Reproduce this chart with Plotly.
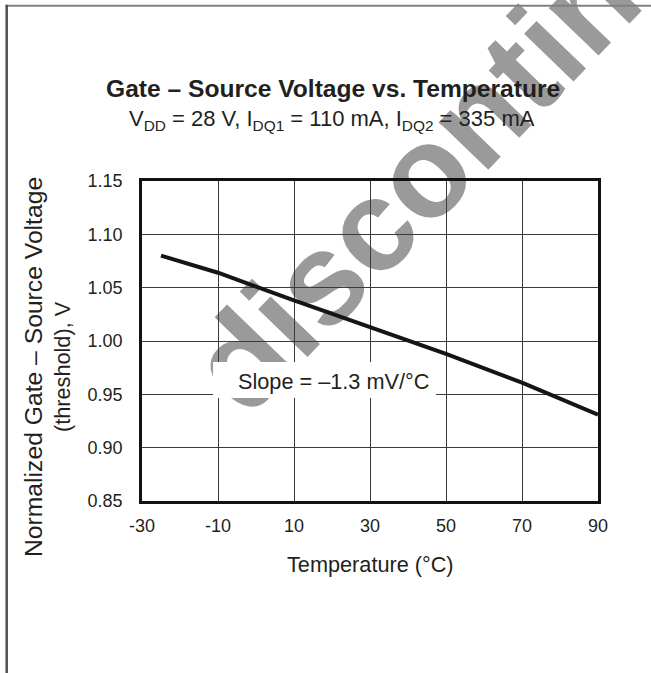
import plotly.graph_objects as go

# ---- data ----
temperature_c = [-25, -10, 10, 30, 50, 70, 90]
vgs_normalized = [1.080, 1.064, 1.038, 1.013, 0.988, 0.961, 0.931]

x_tick_vals = [-30, -10, 10, 30, 50, 70, 90]
x_tick_text = ["-30", "-10", "10", "30", "50", "70", "90"]
y_tick_vals = [0.85, 0.90, 0.95, 1.00, 1.05, 1.10, 1.15]
y_tick_text = ["0.85", "0.90", "0.95", "1.00", "1.05", "1.10", "1.15"]

title_text = "Gate – Source Voltage vs. Temperature"
subtitle_text = "V<sub>DD</sub> = 28 V, I<sub>DQ1</sub> = 110 mA, I<sub>DQ2</sub> = 335 mA"
x_title = "Temperature (°C)"
y_title_1 = "Normalized Gate – Source Voltage"
y_title_2 = "(threshold), V"
slope_text = "Slope = –1.3 mV/°C"
watermark_text = "discontinued"

FONT = "Liberation Sans, Arial, Helvetica, sans-serif"
TXT = "#231f20"

fig = go.Figure(
    go.Scatter(
        x=temperature_c,
        y=vgs_normalized,
        mode="lines",
        line=dict(color="#151515", width=4),
        showlegend=False,
        hoverinfo="skip",
    )
)

fig.update_layout(
    width=651,
    height=673,
    margin=dict(l=142, r=53, t=181, b=172, autoexpand=False),
    paper_bgcolor="white",
    plot_bgcolor="rgba(0,0,0,0)",
    font=dict(family=FONT, color=TXT),
    showlegend=False,
)

axis_common = dict(
    showgrid=True,
    gridcolor="#3a3a3a",
    gridwidth=1,
    showline=True,
    linecolor="#111111",
    linewidth=2.5,
    mirror=True,
    ticks="",
    zeroline=False,
    tickfont=dict(size=18, color=TXT, family=FONT),
)

fig.update_xaxes(
    range=[-30, 90],
    tickmode="array",
    tickvals=x_tick_vals,
    ticktext=x_tick_text,
    ticklabelstandoff=7,
    **axis_common,
)
fig.update_yaxes(
    range=[0.85, 1.15],
    tickmode="array",
    tickvals=y_tick_vals,
    ticktext=y_tick_text,
    ticklabelstandoff=13,
    **axis_common,
)

# watermark (behind grid)
fig.add_shape(
    type="rect", xref="paper", yref="paper",
    x0=0.7494, x1=0.7594, y0=1.2794, y1=1.2894,
    line=dict(width=0), fillcolor="rgba(0,0,0,0)", layer="below",
    label=dict(
        text="<b>" + watermark_text + "</b>",
        textangle=-46,
        textposition="middle center",
        font=dict(size=130, color="#9a9a9a", family=FONT),
    ),
)

# white box behind slope label
fig.add_shape(
    type="rect", xref="x", yref="y",
    x0=-11.3, x1=47.4, y0=0.9466, y1=0.9803,
    line=dict(width=0), fillcolor="white", layer="above",
)
fig.add_annotation(
    x=20.4, y=0.962, xref="x", yref="y", text=slope_text, showarrow=False,
    font=dict(size=21.7, color=TXT, family=FONT), xanchor="center", yanchor="middle",
)

# titles
fig.add_annotation(
    x=0.4178, y=1.2875, xref="paper", yref="paper", text="<b>" + title_text + "</b>",
    showarrow=False, font=dict(size=24.6, color=TXT, family=FONT),
    xanchor="center", yanchor="middle",
)
fig.add_annotation(
    x=0.4167, y=1.192, xref="paper", yref="paper", text=subtitle_text,
    showarrow=False, font=dict(size=22, color=TXT, family=FONT),
    xanchor="center", yanchor="middle",
)
fig.add_annotation(
    x=0.5, y=-0.197, xref="paper", yref="paper", text=x_title,
    showarrow=False, font=dict(size=21.7, color=TXT, family=FONT),
    xanchor="center", yanchor="middle",
)
fig.add_annotation(
    x=-0.206, y=0.419, xref="paper", yref="paper",
    text="<span style='font-size:24.7px'>" + y_title_1 + "</span><br>" + y_title_2,
    textangle=-90, showarrow=False, font=dict(size=21.7, color=TXT, family=FONT),
    xanchor="center", yanchor="middle",
)

# page frame lines
fig.add_shape(type="line", xref="paper", yref="paper",
              x0=-0.2993, x1=1.12, y0=1.5478, y1=1.5478,
              line=dict(color="#808080", width=2), layer="above")
fig.add_shape(type="line", xref="paper", yref="paper",
              x0=-0.2967, x1=-0.2967, y0=-0.54, y1=1.551,
              line=dict(color="#505050", width=2.5), layer="above")

fig.write_html(
    "out.html",
    config={"displayModeBar": False},
    post_script="document.body.style.margin='0';",
)
